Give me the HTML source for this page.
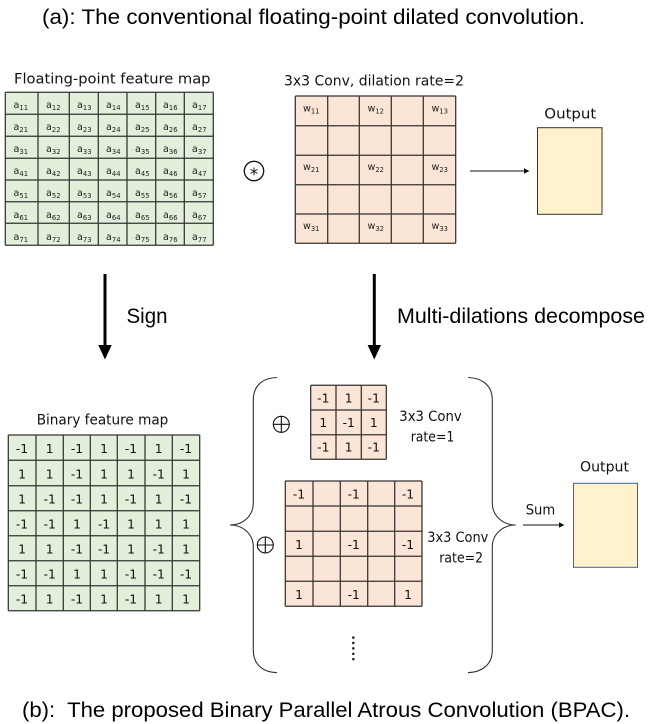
<!DOCTYPE html>
<html><head><meta charset="utf-8"><style>
html,body{margin:0;padding:0;background:#fff}
svg{display:block}
text{font-family:"DejaVu Sans","Liberation Sans",sans-serif;fill:#111}
.h{font-family:"Liberation Sans",Arial,sans-serif;font-size:21px;fill:#000;white-space:pre}
.l{font-size:14.5px}
.a{font-size:9.6px;fill:#222}
.s{font-size:6.8px}
.n{font-size:12.3px;text-anchor:middle;fill:#111}
.g{stroke:#333;stroke-width:1.25;fill:none}
</style></head><body>
<svg width="650" height="724" viewBox="0 0 650 724" xmlns="http://www.w3.org/2000/svg">
<text class="h" x="42" y="24" textLength="543" lengthAdjust="spacingAndGlyphs">(a): The conventional floating-point dilated convolution.</text>
<text class="h" x="22" y="717" textLength="608" lengthAdjust="spacingAndGlyphs">(b):  The proposed Binary Parallel Atrous Convolution (BPAC).</text>
<text class="h" x="126.5" y="323" textLength="41" lengthAdjust="spacingAndGlyphs">Sign</text>
<text class="h" x="397" y="323" textLength="248" lengthAdjust="spacingAndGlyphs">Multi-dilations decompose</text>

<text class="l" x="14" y="83.3" textLength="196.5" lengthAdjust="spacingAndGlyphs">Floating-point feature map</text>
<rect x="5.3" y="92.3" width="208" height="153" fill="#e2efda"/>
<path class="g" d="M5.3 92.3V245.3M38 92.3V245.3M69.3 92.3V245.3M98.3 92.3V245.3M127 92.3V245.3M155.7 92.3V245.3M184.3 92.3V245.3M213.3 92.3V245.3M5.3 92.3H213.3M5.3 114.3H213.3M5.3 136.3H213.3M5.3 158.3H213.3M5.3 180H213.3M5.3 201.7H213.3M5.3 223.3H213.3M5.3 245.3H213.3"/>
<g class="a">
<text class="a" x="13.5" y="108">a<tspan class="s" dy="2">11</tspan></text><text class="a" x="46" y="108">a<tspan class="s" dy="2">12</tspan></text><text class="a" x="77" y="108">a<tspan class="s" dy="2">13</tspan></text><text class="a" x="106" y="108">a<tspan class="s" dy="2">14</tspan></text><text class="a" x="135" y="108">a<tspan class="s" dy="2">15</tspan></text><text class="a" x="163" y="108">a<tspan class="s" dy="2">16</tspan></text><text class="a" x="192" y="108">a<tspan class="s" dy="2">17</tspan></text>
<text class="a" x="13.5" y="130">a<tspan class="s" dy="2">21</tspan></text><text class="a" x="46" y="130">a<tspan class="s" dy="2">22</tspan></text><text class="a" x="77" y="130">a<tspan class="s" dy="2">23</tspan></text><text class="a" x="106" y="130">a<tspan class="s" dy="2">24</tspan></text><text class="a" x="135" y="130">a<tspan class="s" dy="2">25</tspan></text><text class="a" x="163" y="130">a<tspan class="s" dy="2">26</tspan></text><text class="a" x="192" y="130">a<tspan class="s" dy="2">27</tspan></text>
<text class="a" x="13.5" y="152">a<tspan class="s" dy="2">31</tspan></text><text class="a" x="46" y="152">a<tspan class="s" dy="2">32</tspan></text><text class="a" x="77" y="152">a<tspan class="s" dy="2">33</tspan></text><text class="a" x="106" y="152">a<tspan class="s" dy="2">34</tspan></text><text class="a" x="135" y="152">a<tspan class="s" dy="2">35</tspan></text><text class="a" x="163" y="152">a<tspan class="s" dy="2">36</tspan></text><text class="a" x="192" y="152">a<tspan class="s" dy="2">37</tspan></text>
<text class="a" x="13.5" y="174">a<tspan class="s" dy="2">41</tspan></text><text class="a" x="46" y="174">a<tspan class="s" dy="2">42</tspan></text><text class="a" x="77" y="174">a<tspan class="s" dy="2">43</tspan></text><text class="a" x="106" y="174">a<tspan class="s" dy="2">44</tspan></text><text class="a" x="135" y="174">a<tspan class="s" dy="2">45</tspan></text><text class="a" x="163" y="174">a<tspan class="s" dy="2">46</tspan></text><text class="a" x="192" y="174">a<tspan class="s" dy="2">47</tspan></text>
<text class="a" x="13.5" y="196">a<tspan class="s" dy="2">51</tspan></text><text class="a" x="46" y="196">a<tspan class="s" dy="2">52</tspan></text><text class="a" x="77" y="196">a<tspan class="s" dy="2">53</tspan></text><text class="a" x="106" y="196">a<tspan class="s" dy="2">54</tspan></text><text class="a" x="135" y="196">a<tspan class="s" dy="2">55</tspan></text><text class="a" x="163" y="196">a<tspan class="s" dy="2">56</tspan></text><text class="a" x="192" y="196">a<tspan class="s" dy="2">57</tspan></text>
<text class="a" x="13.5" y="218">a<tspan class="s" dy="2">61</tspan></text><text class="a" x="46" y="218">a<tspan class="s" dy="2">62</tspan></text><text class="a" x="77" y="218">a<tspan class="s" dy="2">63</tspan></text><text class="a" x="106" y="218">a<tspan class="s" dy="2">64</tspan></text><text class="a" x="135" y="218">a<tspan class="s" dy="2">65</tspan></text><text class="a" x="163" y="218">a<tspan class="s" dy="2">66</tspan></text><text class="a" x="192" y="218">a<tspan class="s" dy="2">67</tspan></text>
<text class="a" x="13.5" y="240">a<tspan class="s" dy="2">71</tspan></text><text class="a" x="46" y="240">a<tspan class="s" dy="2">72</tspan></text><text class="a" x="77" y="240">a<tspan class="s" dy="2">73</tspan></text><text class="a" x="106" y="240">a<tspan class="s" dy="2">74</tspan></text><text class="a" x="135" y="240">a<tspan class="s" dy="2">75</tspan></text><text class="a" x="163" y="240">a<tspan class="s" dy="2">76</tspan></text><text class="a" x="192" y="240">a<tspan class="s" dy="2">77</tspan></text>
</g>

<circle cx="254" cy="171" r="9.7" fill="none" stroke="#111" stroke-width="1.3"/>
<text x="254" y="180" text-anchor="middle" style="font-size:17px;fill:#111">*</text>

<text class="l" x="284" y="85.7" textLength="180" lengthAdjust="spacingAndGlyphs">3x3 Conv, dilation rate=2</text>
<rect x="295.3" y="96" width="160.4" height="147.3" fill="#fbe5d6"/>
<path class="g" d="M295.3 96V243.3M327.7 96V243.3M359.3 96V243.3M391.3 96V243.3M423.3 96V243.3M455.7 96V243.3M295.3 96H455.7M295.3 125.7H455.7M295.3 155.3H455.7M295.3 184.7H455.7M295.3 214H455.7M295.3 243.3H455.7"/>
<text class="a" x="303" y="111.5">w<tspan class="s" dy="2">11</tspan></text><text class="a" x="367.5" y="111.5">w<tspan class="s" dy="2">12</tspan></text><text class="a" x="431.5" y="111.5">w<tspan class="s" dy="2">13</tspan></text>
<text class="a" x="303" y="170">w<tspan class="s" dy="2">21</tspan></text><text class="a" x="367.5" y="170">w<tspan class="s" dy="2">22</tspan></text><text class="a" x="431.5" y="170">w<tspan class="s" dy="2">23</tspan></text>
<text class="a" x="303" y="229">w<tspan class="s" dy="2">31</tspan></text><text class="a" x="367.5" y="229">w<tspan class="s" dy="2">32</tspan></text><text class="a" x="431.5" y="229">w<tspan class="s" dy="2">33</tspan></text>

<path d="M470 171H525" stroke="#111" stroke-width="1"/><path d="M524 168.2L529.5 171L524 173.8Z" fill="#111"/>
<text class="l" x="544.3" y="118.7" textLength="52" lengthAdjust="spacingAndGlyphs">Output</text>
<rect x="537.5" y="127.7" width="64.5" height="86.6" fill="#fff2cc" stroke="#333" stroke-width="1"/>

<path d="M105 274V347" stroke="#000" stroke-width="3"/><path d="M98.3 345H111.7L105 359.5Z" fill="#000"/>
<path d="M374.3 274V347" stroke="#000" stroke-width="3"/><path d="M367.6 345H381L374.3 359.5Z" fill="#000"/>

<text class="l" x="36.7" y="424.3" textLength="131.6" lengthAdjust="spacingAndGlyphs">Binary feature map</text>
<rect x="8.3" y="435" width="191.4" height="175.7" fill="#e2efda"/>
<path class="g" d="M8.3 435V610.7M36 435V610.7M63.3 435V610.7M90.3 435V610.7M117.3 435V610.7M145 435V610.7M172.3 435V610.7M199.7 435V610.7M8.3 435H199.7M8.3 460.3H199.7M8.3 485.7H199.7M8.3 510.7H199.7M8.3 535.7H199.7M8.3 560.7H199.7M8.3 585.7H199.7M8.3 610.7H199.7"/>
<text class="n" x="22" y="453">-1</text><text class="n" x="49.7" y="453">1</text><text class="n" x="77" y="453">-1</text><text class="n" x="104" y="453">1</text><text class="n" x="131" y="453">-1</text><text class="n" x="158.7" y="453">1</text><text class="n" x="186" y="453">-1</text>
<text class="n" x="22" y="478.3">1</text><text class="n" x="49.7" y="478.3">1</text><text class="n" x="77" y="478.3">-1</text><text class="n" x="104" y="478.3">1</text><text class="n" x="131" y="478.3">1</text><text class="n" x="158.7" y="478.3">-1</text><text class="n" x="186" y="478.3">1</text>
<text class="n" x="22" y="503.5">1</text><text class="n" x="49.7" y="503.5">-1</text><text class="n" x="77" y="503.5">-1</text><text class="n" x="104" y="503.5">1</text><text class="n" x="131" y="503.5">-1</text><text class="n" x="158.7" y="503.5">1</text><text class="n" x="186" y="503.5">-1</text>
<text class="n" x="22" y="528.5">-1</text><text class="n" x="49.7" y="528.5">-1</text><text class="n" x="77" y="528.5">1</text><text class="n" x="104" y="528.5">-1</text><text class="n" x="131" y="528.5">1</text><text class="n" x="158.7" y="528.5">1</text><text class="n" x="186" y="528.5">1</text>
<text class="n" x="22" y="553.5">1</text><text class="n" x="49.7" y="553.5">1</text><text class="n" x="77" y="553.5">-1</text><text class="n" x="104" y="553.5">-1</text><text class="n" x="131" y="553.5">1</text><text class="n" x="158.7" y="553.5">-1</text><text class="n" x="186" y="553.5">1</text>
<text class="n" x="22" y="578.5">-1</text><text class="n" x="49.7" y="578.5">-1</text><text class="n" x="77" y="578.5">1</text><text class="n" x="104" y="578.5">1</text><text class="n" x="131" y="578.5">-1</text><text class="n" x="158.7" y="578.5">-1</text><text class="n" x="186" y="578.5">-1</text>
<text class="n" x="22" y="603.5">-1</text><text class="n" x="49.7" y="603.5">1</text><text class="n" x="77" y="603.5">-1</text><text class="n" x="104" y="603.5">1</text><text class="n" x="131" y="603.5">-1</text><text class="n" x="158.7" y="603.5">1</text><text class="n" x="186" y="603.5">1</text>

<path d="M277 377.5C262 378 253.3 386 253.3 400V503C253.3 516 243 525 230 525C243 525 253.3 534 253.3 547V650C253.3 664 262 672 277 672.7" fill="none" stroke="#333" stroke-width="1.1"/>
<path d="M468 377.5C483 378 492.3 386 492.3 400V503C492.3 516 503 525 515.7 525C503 525 492.3 534 492.3 547V650C492.3 664 483 672 468 672.7" fill="none" stroke="#333" stroke-width="1.1"/>

<g fill="none" stroke="#111" stroke-width="1.1"><circle cx="281.3" cy="424.3" r="8"/><path d="M273.3 424.3H289.3M281.3 416.3V432.3"/><circle cx="265.3" cy="545" r="8"/><path d="M257.3 545H273.3M265.3 537V553"/></g>

<rect x="310.7" y="385.3" width="75.6" height="74" fill="#fbe5d6"/>
<path class="g" d="M310.7 385.3V459.3M336 385.3V459.3M361.3 385.3V459.3M386.3 385.3V459.3M310.7 385.3H386.3M310.7 410H386.3M310.7 434.7H386.3M310.7 459.3H386.3"/>
<text class="n" x="323.3" y="402.3">-1</text><text class="n" x="348.7" y="402.3">1</text><text class="n" x="373.8" y="402.3">-1</text>
<text class="n" x="323.3" y="427">1</text><text class="n" x="348.7" y="427">-1</text><text class="n" x="373.8" y="427">1</text>
<text class="n" x="323.3" y="451.7">-1</text><text class="n" x="348.7" y="451.7">1</text><text class="n" x="373.8" y="451.7">-1</text>
<text class="l" x="399.3" y="421" textLength="62.4" lengthAdjust="spacingAndGlyphs">3x3 Conv</text>
<text class="l" x="410.7" y="441.7" textLength="43.6" lengthAdjust="spacingAndGlyphs">rate=1</text>

<rect x="285.3" y="481" width="136.7" height="125.3" fill="#fbe5d6"/>
<path class="g" d="M285.3 481V606.3M313 481V606.3M340.3 481V606.3M367.7 481V606.3M394.7 481V606.3M422 481V606.3M285.3 481H422M285.3 506H422M285.3 531.3H422M285.3 556.3H422M285.3 581.3H422M285.3 606.3H422"/>
<text class="n" x="299" y="498.3">-1</text><text class="n" x="353.7" y="498.3">-1</text><text class="n" x="408" y="498.3">-1</text>
<text class="n" x="299" y="549">1</text><text class="n" x="353.7" y="549">-1</text><text class="n" x="408" y="549">-1</text>
<text class="n" x="299" y="599">1</text><text class="n" x="353.7" y="599">-1</text><text class="n" x="408" y="599">1</text>
<text class="l" x="427.3" y="542" textLength="61" lengthAdjust="spacingAndGlyphs">3x3 Conv</text>
<text class="l" x="439.3" y="562.3" textLength="43.7" lengthAdjust="spacingAndGlyphs">rate=2</text>
<path d="M353.3 636.5V663" stroke="#111" stroke-width="2.2" stroke-dasharray="2.2 3.2"/>

<text class="l" x="525.7" y="514.3" textLength="29.5" lengthAdjust="spacingAndGlyphs">Sum</text>
<path d="M523 525H560" stroke="#111" stroke-width="1"/><path d="M559 522.2L564.5 525L559 527.8Z" fill="#111"/>
<text class="l" x="580" y="471.7" textLength="49" lengthAdjust="spacingAndGlyphs">Output</text>
<rect x="573.5" y="483.3" width="64" height="84" fill="#fff2cc" stroke="#44608f" stroke-width="1"/>
</svg>
</body></html>
